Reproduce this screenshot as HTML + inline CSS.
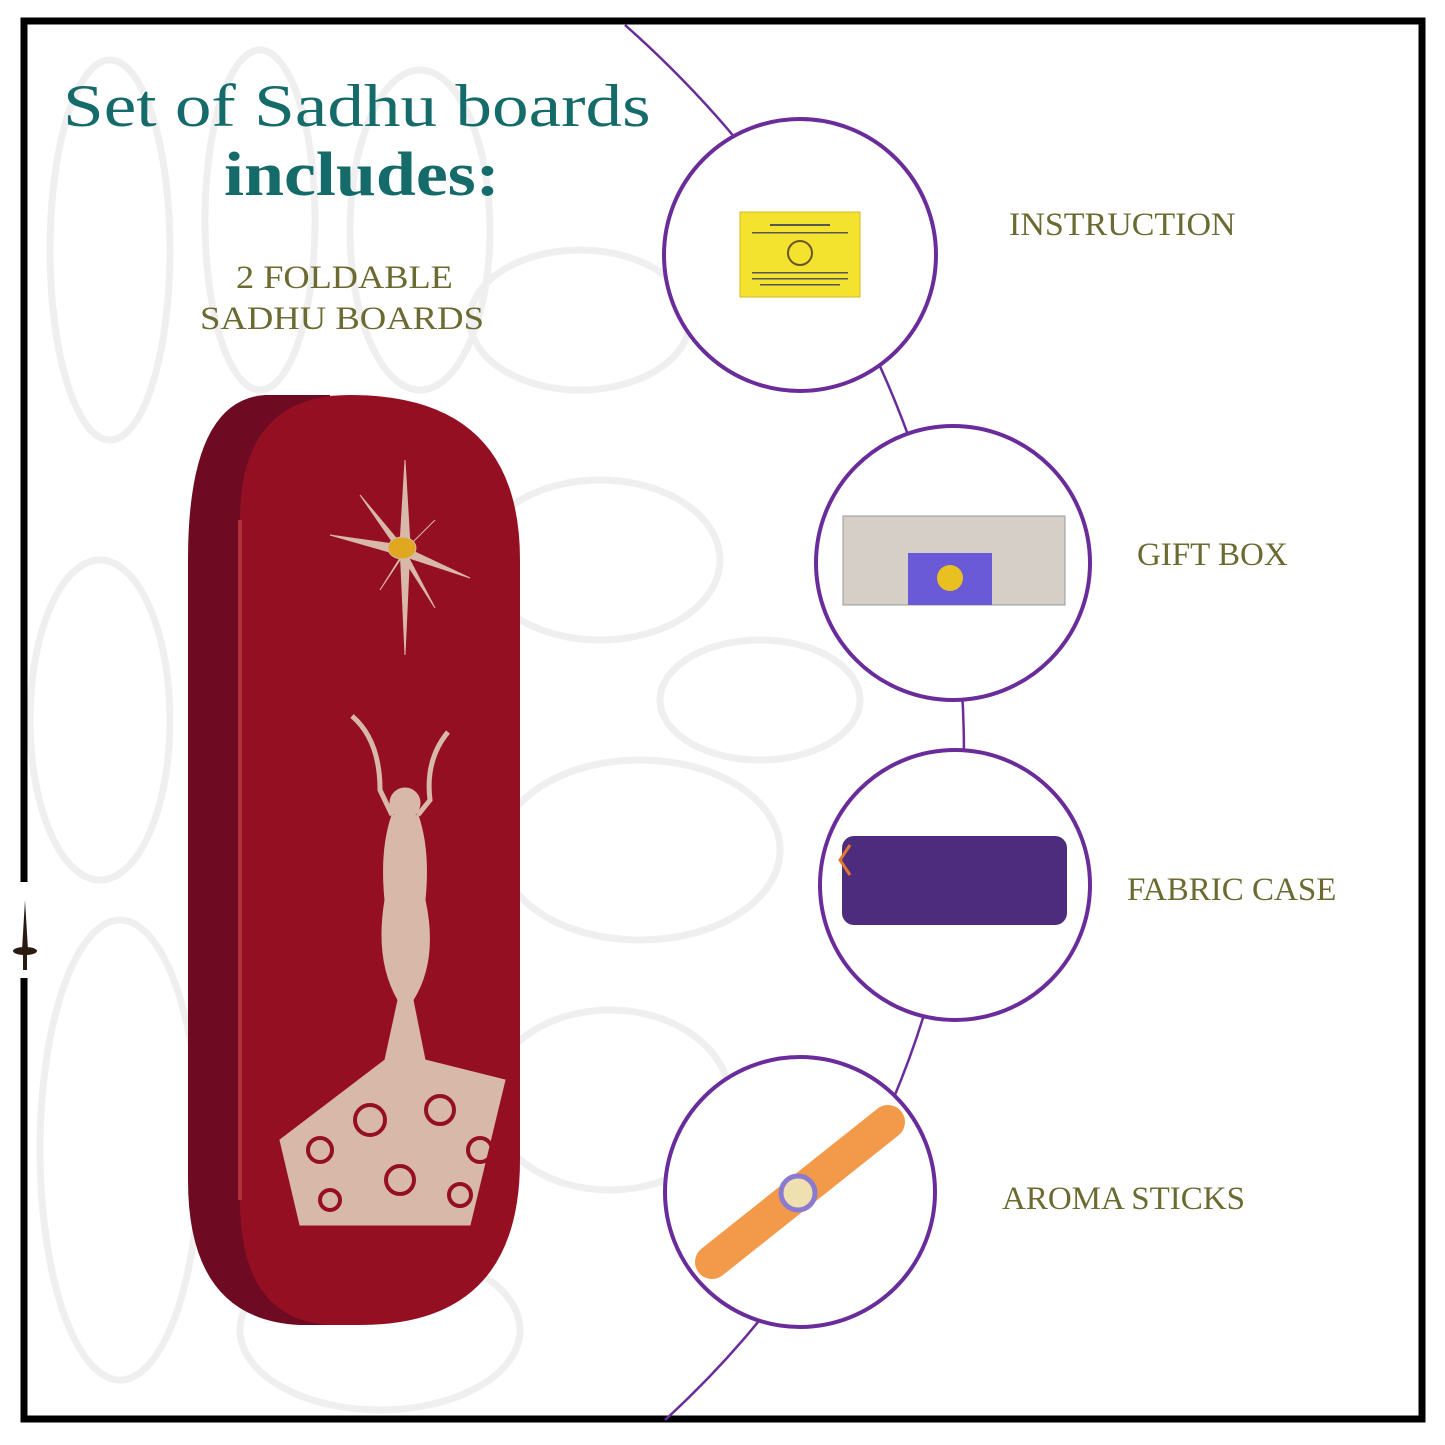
<!DOCTYPE html>
<html><head><style>
body{margin:0;width:1445px;height:1445px;background:#fff;overflow:hidden;position:relative;font-family:"Liberation Serif",serif}
.t{position:absolute;white-space:nowrap;transform-origin:0 0}
</style></head><body>
<svg width="1445" height="1445" style="position:absolute;left:0;top:0">
<g fill="none" stroke="#efefef" stroke-width="7">
<ellipse cx="110" cy="250" rx="60" ry="190"/>
<ellipse cx="260" cy="220" rx="55" ry="170"/>
<ellipse cx="420" cy="230" rx="70" ry="160"/>
<ellipse cx="100" cy="720" rx="70" ry="160"/>
<ellipse cx="120" cy="1150" rx="80" ry="230"/>
<ellipse cx="600" cy="560" rx="120" ry="80"/>
<ellipse cx="640" cy="850" rx="140" ry="90"/>
<ellipse cx="610" cy="1100" rx="120" ry="90"/>
<ellipse cx="380" cy="1330" rx="140" ry="80"/>
<ellipse cx="580" cy="320" rx="110" ry="70"/>
<ellipse cx="760" cy="700" rx="100" ry="60"/>
</g>
<rect x="24" y="21" width="1398" height="1398" fill="none" stroke="#000" stroke-width="7"/>
<rect x="14" y="882" width="20" height="96" fill="#fff"/>
<path d="M25 900 L22 950 L28 950 Z" fill="#2a1a10"/><ellipse cx="25" cy="951" rx="12" ry="4" fill="#2a1a10"/><rect x="23" y="950" width="4" height="20" fill="#2a1a10"/>
<path d="M625 25 C1070 420 1070 1050 665 1420" fill="none" stroke="#6a2c9a" stroke-width="2.5"/>
<path d="M265 395 Q188 400 188 560 L188 1180 Q188 1320 300 1325 L330 1325 L330 395 Z" fill="#6e0b22"/>
<path d="M350 395 Q520 395 520 560 L520 1160 Q520 1325 360 1325 L330 1325 Q240 1320 240 1200 L240 520 Q240 395 350 395 Z" fill="#950f22"/>
<path d="M240 520 L240 1200" stroke="#b0303e" stroke-width="4"/>
<g fill="#d8b8a8" stroke="#d8b8a8">
<path d="M405 460 L410 545 L405 655 L400 545 Z"/>
<path d="M330 535 L400 545 L470 578 L400 555 Z"/>
<path d="M360 495 L402 545 L435 608 L398 550 Z"/>
<path d="M435 520 L405 550 L380 590 L410 545 Z"/>
<ellipse cx="402" cy="548" rx="14" ry="11" fill="#e0a820"/>
<circle cx="405" cy="803" r="15"/>
<path d="M392 815 Q380 850 385 900 Q375 960 398 1000 L385 1060 L280 1140 L300 1225 L470 1225 L505 1080 L425 1060 L413 1000 Q438 960 425 900 Q430 850 418 815 Z"/>
<path d="M352 716 Q380 740 380 790 L392 815" fill="none" stroke-width="5"/>
<path d="M448 732 Q425 760 430 800 L418 815" fill="none" stroke-width="5"/>
</g>
<g fill="none" stroke="#950f22" stroke-width="4">
<circle cx="320" cy="1150" r="12"/><circle cx="370" cy="1120" r="15"/><circle cx="440" cy="1110" r="14"/><circle cx="480" cy="1150" r="12"/><circle cx="400" cy="1180" r="14"/><circle cx="330" cy="1200" r="10"/><circle cx="460" cy="1195" r="11"/>
</g>
<g fill="#fff" stroke="#6a2c9a" stroke-width="4">
<circle cx="800" cy="255" r="136"/>
<circle cx="953" cy="563" r="137"/>
<circle cx="955" cy="885" r="135"/>
<circle cx="800" cy="1192" r="135"/>
</g>
<rect x="740" y="212" width="120" height="85" fill="#f3e22e" stroke="#d9b820"/>
<circle cx="800" cy="253" r="12" fill="none" stroke="#6a5520" stroke-width="2"/>
<g fill="#555"><rect x="770" y="224" width="60" height="2"/><rect x="752" y="232" width="96" height="1.5"/><rect x="752" y="272" width="96" height="1.5"/><rect x="752" y="278" width="96" height="1.5"/><rect x="760" y="284" width="80" height="1.5"/></g>
<rect x="843" y="516" width="222" height="89" fill="#d5cfc8" stroke="#999"/>
<rect x="908" y="553" width="84" height="52" fill="#6a5ad8"/>
<circle cx="950" cy="578" r="13" fill="#e8c020"/>
<rect x="842" y="836" width="225" height="89" rx="12" fill="#4d2c7e"/>
<path d="M850 845 L840 860 L850 875" stroke="#e07830" stroke-width="3" fill="none"/>
<path d="M712 1262 L888 1122" stroke="#f39a4a" stroke-width="34" stroke-linecap="round"/>
<circle cx="798" cy="1193" r="17" fill="#f0e0b0" stroke="#8a7ad0" stroke-width="5"/>
</svg>
<div class="t" style="left:63px;top:72px;font-size:60px;color:#156a6a;transform:scaleX(1.22)">Set of Sadhu boards</div>
<div class="t" style="left:224px;top:140px;font-size:62px;font-weight:bold;color:#156a6a;transform:scaleX(1.16)">includes:</div>
<div class="t" style="left:236px;top:260px;font-size:33px;color:#6b6a30;transform:scaleX(1.1)">2 FOLDABLE</div>
<div class="t" style="left:200px;top:301px;font-size:33px;color:#6b6a30;transform:scaleX(1.11)">SADHU BOARDS</div>
<div class="t" style="left:1009px;top:207px;font-size:33px;color:#6b6a30;transform:scaleX(1.03)">INSTRUCTION</div>
<div class="t" style="left:1137px;top:537px;font-size:33px;color:#6b6a30">GIFT BOX</div>
<div class="t" style="left:1127px;top:872px;font-size:33px;color:#6b6a30">FABRIC CASE</div>
<div class="t" style="left:1002px;top:1181px;font-size:33px;color:#6b6a30">AROMA STICKS</div>
</body></html>
